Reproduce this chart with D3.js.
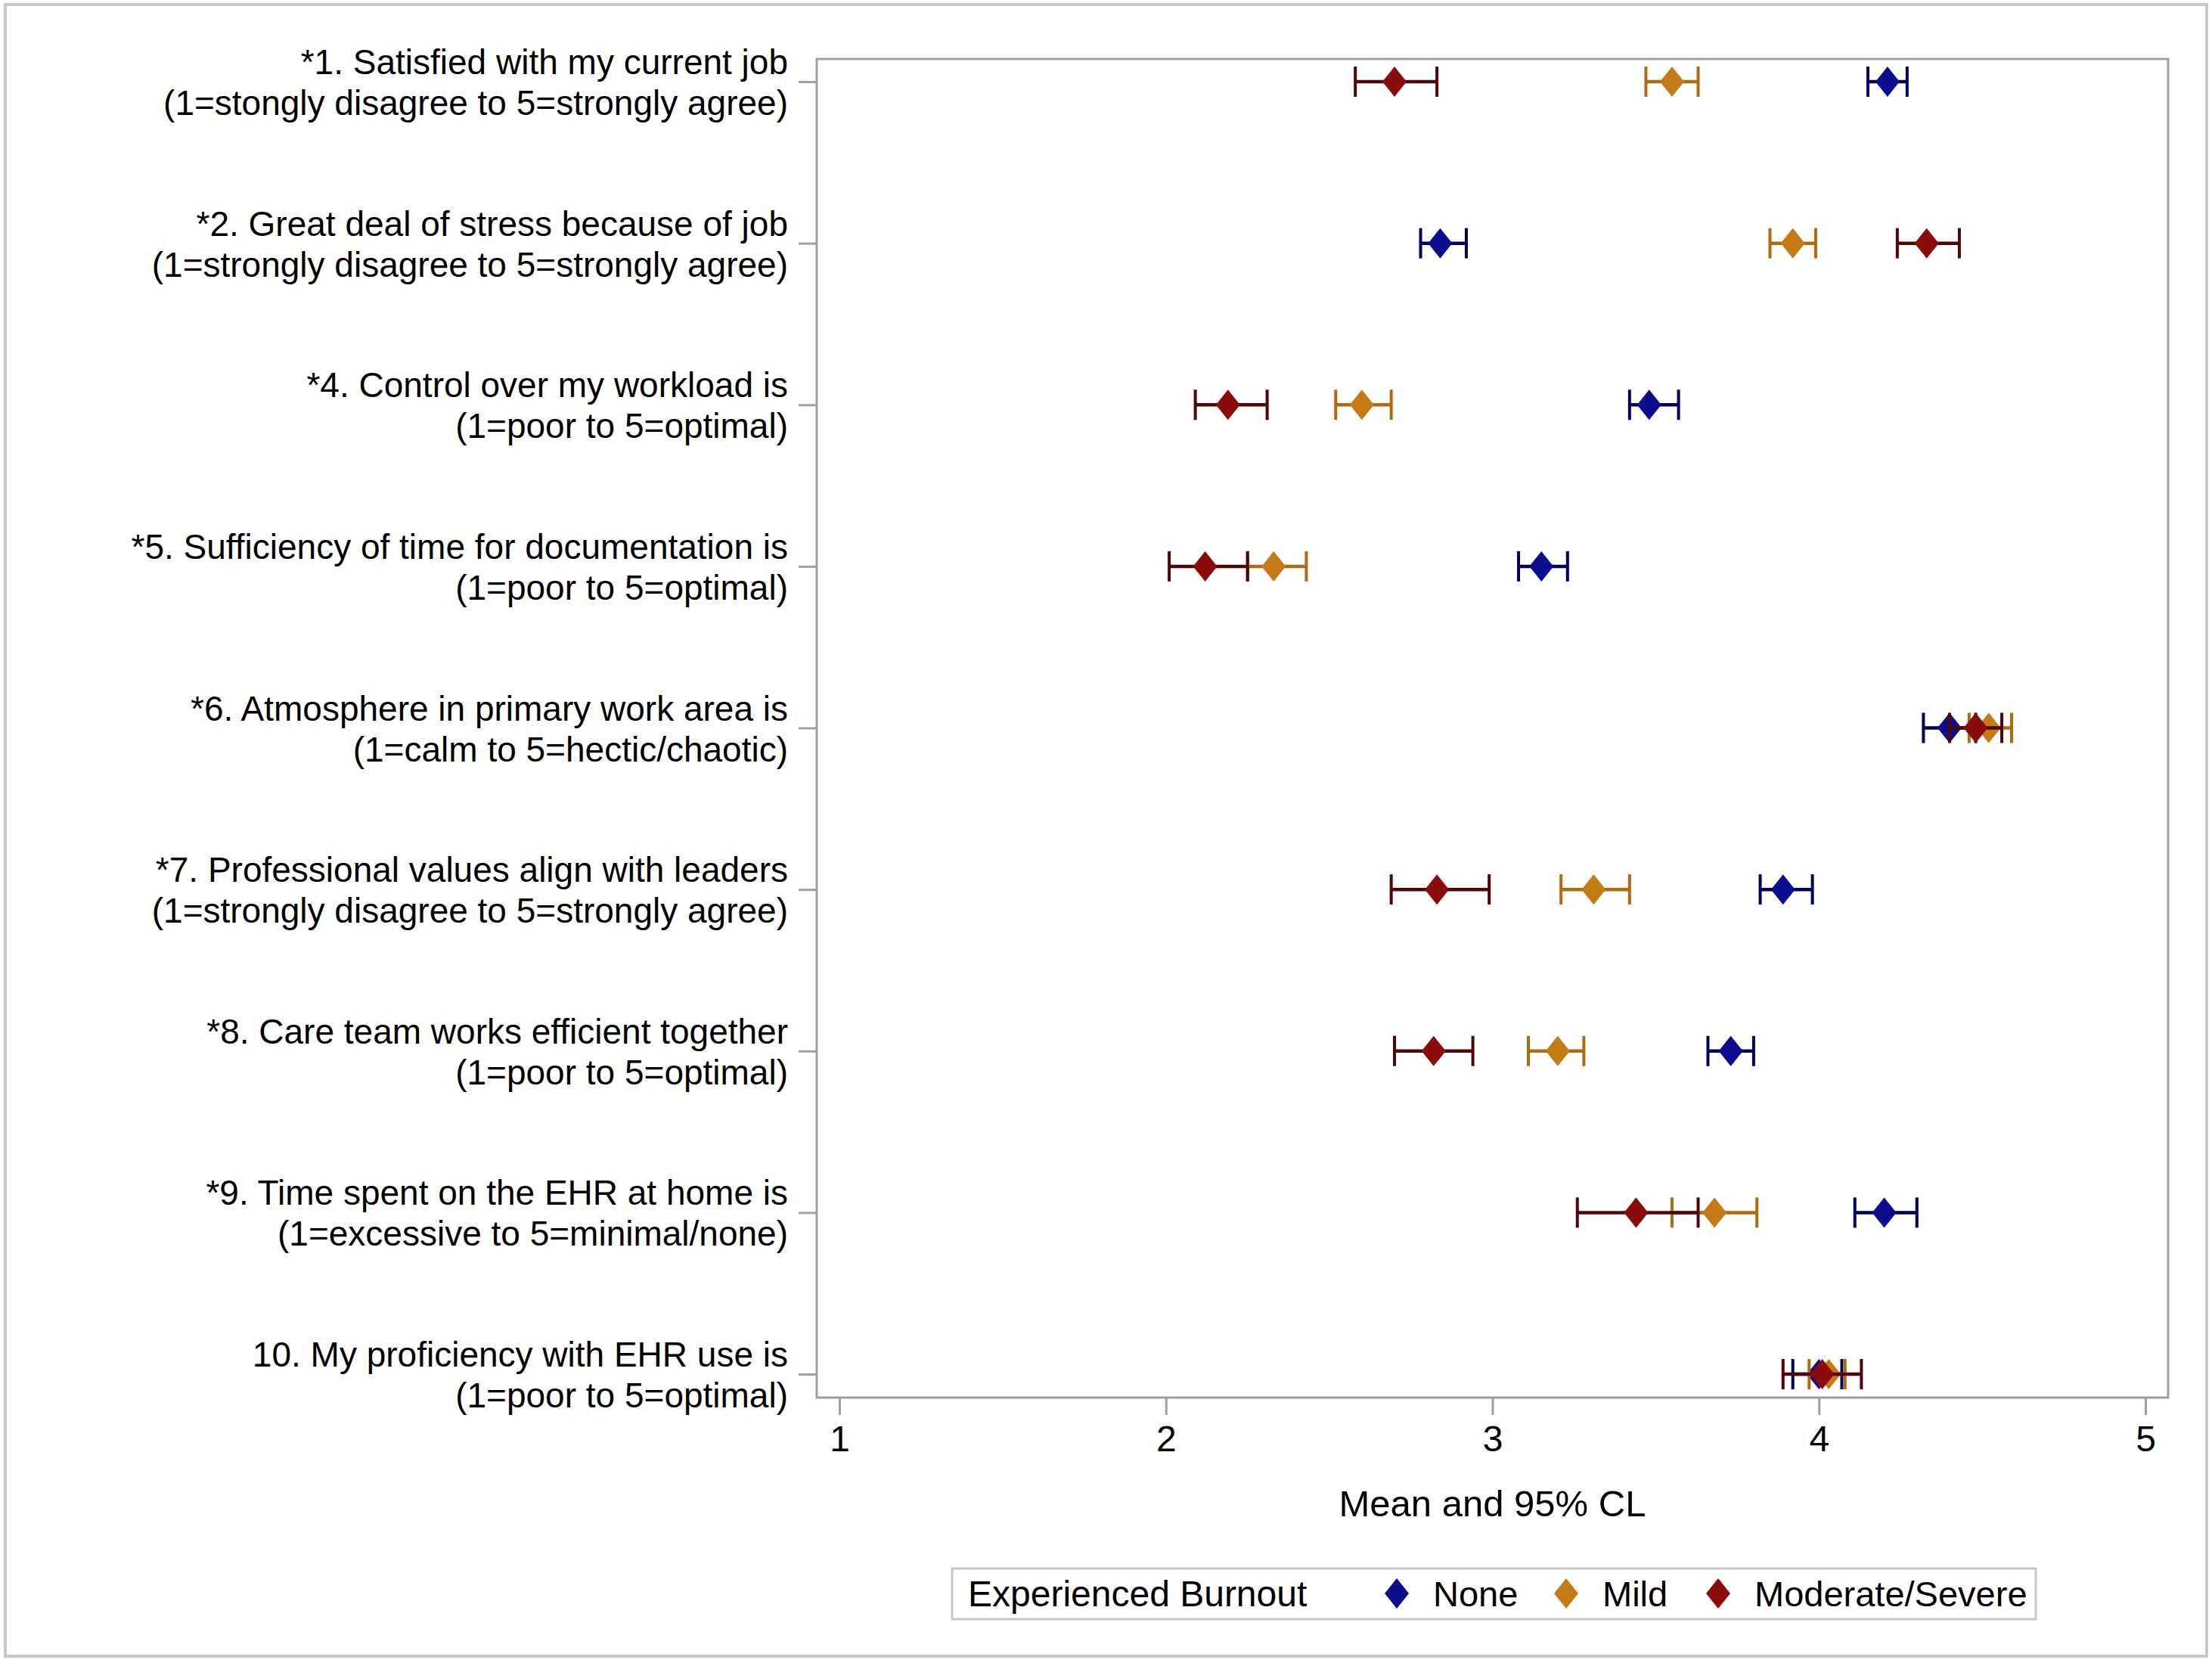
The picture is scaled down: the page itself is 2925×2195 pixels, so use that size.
<!DOCTYPE html>
<html>
<head>
<meta charset="utf-8">
<script src="https://cdn.jsdelivr.net/npm/d3@7"></script>
<style>
  body { margin: 0; background: #fff; }
  text { font-family: 'Liberation Sans', Arial, sans-serif; fill: #000; }
</style>
</head>
<body>
<svg id="chart"></svg>
<script>
var width = 2925
var height = 2195
var plotLeft = 1080, plotRight = 2867, plotTop = 78, plotBottom = 1848

var itemLine1 = [
    '*1. Satisfied with my current job',
    '*2. Great deal of stress because of job',
    '*4. Control over my workload is',
    '*5. Sufficiency of time for documentation is',
    '*6. Atmosphere in primary work area is',
    '*7. Professional values align with leaders',
    '*8. Care team works efficient together',
    '*9. Time spent on the EHR at home is',
    '10. My proficiency with EHR use is'
]
var itemLine2 = [
    '(1=stongly disagree to 5=strongly agree)',
    '(1=strongly disagree to 5=strongly agree)',
    '(1=poor to 5=optimal)',
    '(1=poor to 5=optimal)',
    '(1=calm to 5=hectic/chaotic)',
    '(1=strongly disagree to 5=strongly agree)',
    '(1=poor to 5=optimal)',
    '(1=excessive to 5=minimal/none)',
    '(1=poor to 5=optimal)'
]
var groups = ['None', 'Mild', 'Moderate/Severe']
var groupColors = ['#0c0c8e', '#c67a14', '#8b0b0b']
var barColors = ['#00005e', '#b06a10', '#520505']

var noneMean = [4.21, 2.84, 3.48, 3.15, 4.40, 3.89, 3.73, 4.20, 4.00]
var noneLow = [4.15, 2.78, 3.42, 3.08, 4.32, 3.82, 3.66, 4.11, 3.92]
var noneHigh = [4.27, 2.92, 3.57, 3.23, 4.48, 3.98, 3.80, 4.30, 4.07]
var mildMean = [3.55, 3.92, 2.60, 2.33, 4.52, 3.31, 3.20, 3.68, 4.03]
var mildLow = [3.47, 3.85, 2.52, 2.25, 4.46, 3.21, 3.11, 3.55, 3.97]
var mildHigh = [3.63, 3.99, 2.69, 2.43, 4.59, 3.42, 3.28, 3.81, 4.08]
var modMean = [2.70, 4.33, 2.19, 2.12, 4.48, 2.83, 2.82, 3.44, 4.01]
var modLow = [2.58, 4.24, 2.09, 2.01, 4.40, 2.69, 2.70, 3.26, 3.89]
var modHigh = [2.83, 4.43, 2.31, 2.25, 4.56, 2.99, 2.94, 3.63, 4.13]
var xTicks = [1, 2, 3, 4, 5]

var series = [
    { mean: noneMean, low: noneLow, high: noneHigh },
    { mean: mildMean, low: mildLow, high: mildHigh },
    { mean: modMean, low: modLow, high: modHigh }
]

var svg = d3.select('#chart')
    .attr('width', width)
    .attr('height', height)

// outer frame
svg.append('rect')
    .attr('x', 7).attr('y', 6)
    .attr('width', 2911).attr('height', 2184)
    .attr('fill', 'none')
    .attr('stroke', '#c8c8c8')
    .attr('stroke-width', 4)

var xScale = d3.scaleLinear().domain([1, 5]).range([1110, 2837])
var yScale = d3.scalePoint().domain(d3.range(itemLine1.length)).range([108, 1817])

// plot frame
svg.append('rect')
    .attr('x', plotLeft).attr('y', plotTop)
    .attr('width', plotRight - plotLeft).attr('height', plotBottom - plotTop)
    .attr('fill', 'none')
    .attr('stroke', '#a0a0a0')
    .attr('stroke-width', 3)

// x axis
var xAxis = svg.append('g')
    .attr('transform', 'translate(0,' + plotBottom + ')')
    .call(d3.axisBottom(xScale).tickValues(xTicks).tickSize(23).tickPadding(14).tickFormat(d3.format('d')))
xAxis.select('.domain').remove()
xAxis.selectAll('line').attr('stroke', '#a0a0a0').attr('stroke-width', 3)
xAxis.selectAll('text').attr('font-size', '48px').attr('fill', '#000')
    .attr('font-family', "'Liberation Sans', Arial, sans-serif")

svg.append('text')
    .attr('x', (plotLeft + plotRight) / 2 + 0)
    .attr('y', 2005)
    .attr('text-anchor', 'middle')
    .attr('font-size', '49px')
    .text('Mean and 95% CL')

// y axis
var yAxis = svg.append('g')
    .attr('transform', 'translate(' + plotLeft + ',0)')
    .call(d3.axisLeft(yScale).tickSize(24).tickFormat(''))
yAxis.select('.domain').remove()
yAxis.selectAll('line').attr('stroke', '#a0a0a0').attr('stroke-width', 3)

var labels = svg.append('g')
itemLine1.forEach(function (t, i) {
    var lab = labels.append('text')
        .attr('text-anchor', 'end')
        .attr('font-size', '46px')
    lab.append('tspan').attr('x', 1042).attr('y', yScale(i) - 10).text(t)
    lab.append('tspan').attr('x', 1042).attr('y', yScale(i) + 44).text(itemLine2[i])
})

// diamond shape
function diamond(cx, cy, hw, hh) {
    return 'M' + cx + ',' + (cy - hh) + 'L' + (cx + hw) + ',' + cy +
        'L' + cx + ',' + (cy + hh) + 'L' + (cx - hw) + ',' + cy + 'Z'
}

var capHalf = 20
series.forEach(function (s, g) {
    var layer = svg.append('g').attr('class', 'series' + g)
    var idx = d3.range(s.mean.length)
    layer.selectAll('line.bar')
        .data(idx).enter().append('line')
        .attr('class', 'bar')
        .attr('x1', function (i) { return xScale(s.low[i]) })
        .attr('x2', function (i) { return xScale(s.high[i]) })
        .attr('y1', function (i) { return yScale(i) })
        .attr('y2', function (i) { return yScale(i) })
        .attr('stroke', barColors[g])
        .attr('stroke-width', 4.5)
    layer.selectAll('line.capL')
        .data(idx).enter().append('line')
        .attr('class', 'capL')
        .attr('x1', function (i) { return xScale(s.low[i]) })
        .attr('x2', function (i) { return xScale(s.low[i]) })
        .attr('y1', function (i) { return yScale(i) - capHalf })
        .attr('y2', function (i) { return yScale(i) + capHalf })
        .attr('stroke', barColors[g])
        .attr('stroke-width', 4)
    layer.selectAll('line.capH')
        .data(idx).enter().append('line')
        .attr('class', 'capH')
        .attr('x1', function (i) { return xScale(s.high[i]) })
        .attr('x2', function (i) { return xScale(s.high[i]) })
        .attr('y1', function (i) { return yScale(i) - capHalf })
        .attr('y2', function (i) { return yScale(i) + capHalf })
        .attr('stroke', barColors[g])
        .attr('stroke-width', 4)
    layer.selectAll('path')
        .data(idx).enter().append('path')
        .attr('d', function (i) { return diamond(xScale(s.mean[i]), yScale(i), 16, 20) })
        .attr('fill', groupColors[g])
})

// legend
var legend = svg.append('g')
legend.append('rect')
    .attr('x', 1259).attr('y', 2074)
    .attr('width', 1433).attr('height', 67)
    .attr('fill', 'none')
    .attr('stroke', '#c8c8c8')
    .attr('stroke-width', 3)
legend.append('text')
    .attr('x', 1280).attr('y', 2124)
    .attr('font-size', '48px')
    .text('Experienced Burnout')
var legendX = [1847, 2071, 2272]
groups.forEach(function (name, g) {
    legend.append('path')
        .attr('d', diamond(legendX[g], 2107, 16, 20))
        .attr('fill', groupColors[g])
    legend.append('text')
        .attr('x', legendX[g] + 48).attr('y', 2124)
        .attr('font-size', '47px')
        .text(name)
})
</script>
</body>
</html>
